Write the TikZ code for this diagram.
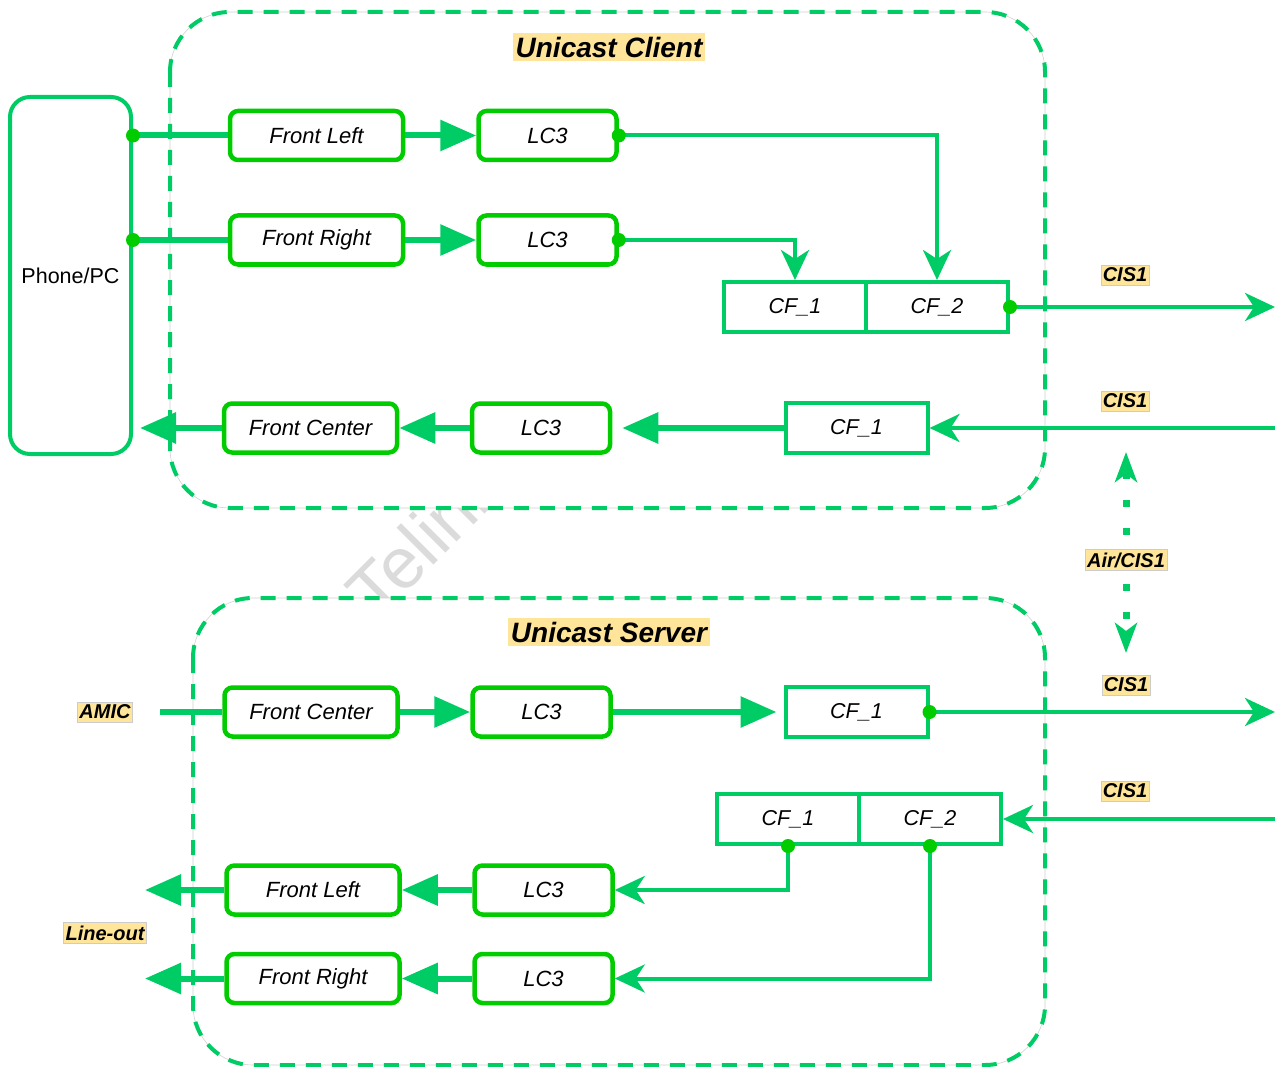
\documentclass[tikz,border=0pt]{standalone}
\usepackage{fontspec}
\setmainfont{Liberation Sans}
\usetikzlibrary{arrows.meta}

\definecolor{flow}{HTML}{00CC66}
\definecolor{blockgreen}{HTML}{00CC00}
\definecolor{tagfill}{HTML}{FFE599}

\tikzset{
  region/.style={draw=flow, line width=4pt, dash pattern=on 15pt off 11pt, rounded corners=60pt},
  regionguide/.style={draw=black!18, line width=0.6pt, rounded corners=60pt, fill=white},
  block/.style={draw=blockgreen, line width=4.5pt, rounded corners=8pt, fill=white,
    minimum width=173pt, minimum height=49pt, inner sep=0pt,
    font=\fontsize{22}{26}\selectfont\itshape},
  codec/.style={block, minimum width=138pt},
  frame/.style={draw=flow, line width=4pt, fill=white, minimum width=142pt,
    minimum height=50pt, inner sep=0pt, font=\fontsize{21.5}{25}\selectfont\itshape},
  tag/.style={fill=tagfill, draw=black!20, line width=0.4pt, inner xsep=2pt, inner ysep=3pt,
    font=\fontsize{20}{24}\selectfont\bfseries\itshape},
  heading/.style={fill=tagfill, inner xsep=3pt, inner ysep=4pt,
    font=\fontsize{28}{32}\selectfont\bfseries\itshape},
  bus/.style={draw=flow, line width=6pt, -{Triangle[length=36pt,width=30pt]}},
  busplain/.style={draw=flow, line width=6pt},
  link/.style={draw=flow, line width=4pt, -{Stealth[length=30pt,width=28pt,inset=9pt]}},
  air/.style={draw=flow, line width=7pt, dash pattern=on 7pt off 21pt,
    {Stealth[length=30pt,width=22pt,inset=8pt]}-{Stealth[length=30pt,width=22pt,inset=8pt]}},
  joint/.style={circle, fill=blockgreen, inner sep=0pt, minimum size=14pt},
}

\begin{document}
\begin{tikzpicture}[x=1pt, y=-1pt]
\useasboundingbox (0,0) rectangle (1276,1067);
\fill[white] (0,0) rectangle (1276,1067);

% faint stamp between the two regions
\begin{scope}
  \clip (0,508) rectangle (1276,598);
  \node[rotate=45, anchor=base west, text=black!14, inner sep=0pt,
        font=\fontsize{72}{80}\selectfont] (stamp) at (377,622) {Telink};
\end{scope}

% ---------------- regions ----------------
\path[regionguide] (170,12) rectangle (1045,508);
\path[region] (170,12) rectangle (1045,508);
\path[regionguide] (193,598) rectangle (1045,1065);
\path[region] (193,598) rectangle (1045,1065);

\node[heading] (t-client) at (609,47) {Unicast Client};
\node[heading] (t-server) at (609,632) {Unicast Server};

% ---------------- source device ----------------
\node[draw=flow, line width=4pt, rounded corners=20pt, minimum width=121pt,
      minimum height=357pt, inner sep=0pt, font=\fontsize{21.5}{25}\selectfont]
      (ph) at (70.5,275.5) {Phone/PC};

% ---------------- client blocks ----------------
\node[block] (c-fl)  at (316.5,135.5) {Front Left};
\node[codec] (c-lc1) at (547.5,135.5) {LC3};
\node[block] (c-fr)  at (316.5,240)   {Front Right};
\node[codec] (c-lc2) at (547.5,240)   {LC3};
\node[frame] (c-cf1) at (795,307)     {CF\_1};
\node[frame] (c-cf2) at (937,307)     {CF\_2};
\node[block] (c-fc)  at (310.5,428)   {Front Center};
\node[codec] (c-lc3) at (541,428)     {LC3};
\node[frame] (c-cf3) at (856.5,428)   {CF\_1};

% ---------------- server blocks ----------------
\node[block] (s-fc)  at (311,712)     {Front Center};
\node[codec] (s-lc1) at (541.5,712)   {LC3};
\node[frame] (s-cf1) at (856.5,712)   {CF\_1};
\node[frame] (s-cfa) at (788,819)     {CF\_1};
\node[frame] (s-cfb) at (930,819)     {CF\_2};
\node[block] (s-fl)  at (313,890)     {Front Left};
\node[codec] (s-lc2) at (543.5,890)   {LC3};
\node[block] (s-fr)  at (313,978.5)   {Front Right};
\node[codec] (s-lc3) at (543.5,978.5) {LC3};

% free ends
\coordinate (o1) at (1275,307);
\coordinate (i1) at (1275,428);
\coordinate (o2) at (1275,712);
\coordinate (i2) at (1275,819);
\coordinate (pc-in) at (140,428);
\coordinate (amic) at (160,712);
\coordinate (lo1) at (145,890);
\coordinate (lo2) at (145,978.5);
\coordinate (air-top) at (1126,452);
\coordinate (air-bot) at (1126,653);

% ---------------- client connectors ----------------
\draw[busplain] (ph.east |- c-fl.west) -- (c-fl.west);
\draw[busplain] (ph.east |- c-fr.west) -- (c-fr.west);
\draw[bus] (c-fl.east) -- (c-lc1.west);
\draw[bus] (c-fr.east) -- (c-lc2.west);
\draw[link] (c-lc1.east) -| (c-cf2.north);
\draw[link] (c-lc2.east) -| (c-cf1.north);
\draw[link] (c-cf2.east) -- (o1);
\draw[link] (i1) -- (c-cf3.east);
\draw[bus, shorten >=10pt] (c-cf3.west) -- (c-lc3.east);
\draw[bus] (c-lc3.west) -- (c-fc.east);
\draw[bus] (c-fc.west) -- (pc-in);

\node[joint] (j1) at (ph.east |- c-fl.west) {};
\node[joint] (j2) at (ph.east |- c-fr.west) {};
\node[joint] (j3) at (c-lc1.east) {};
\node[joint] (j4) at (c-lc2.east) {};
\node[joint] (j5) at (c-cf2.east) {};

% ---------------- server connectors ----------------
\draw[busplain] (amic) -- (s-fc.west);
\draw[bus] (s-fc.east) -- (s-lc1.west);
\draw[bus, shorten >=7pt] (s-lc1.east) -- (s-cf1.west);
\draw[link] (s-cf1.east) -- (o2);
\draw[link] (i2) -- (s-cfb.east);
\draw[link] (s-cfa.south) |- (s-lc2.east);
\draw[link] (s-cfb.south) |- (s-lc3.east);
\draw[bus] (s-lc2.west) -- (s-fl.east);
\draw[bus] (s-lc3.west) -- (s-fr.east);
\draw[bus] (s-fl.west) -- (lo1);
\draw[bus] (s-fr.west) -- (lo2);

\node[joint] (j6) at (s-cf1.east) {};
\node[joint] (j7) at (s-cfa.south) {};
\node[joint] (j8) at (s-cfb.south) {};

% ---------------- over the air ----------------
\draw[air] (air-top) -- (air-bot);

% ---------------- labels ----------------
\node[tag] (l-cis1) at (1125,275) {CIS1};
\node[tag] (l-cis2) at (1125,401) {CIS1};
\node[tag] (l-air)  at (1126,560) {Air/CIS1};
\node[tag] (l-cis3) at (1126,685) {CIS1};
\node[tag] (l-cis4) at (1125,791) {CIS1};
\node[tag] (l-amic) at (105,712)  {AMIC};
\node[tag] (l-out)  at (105,933)  {Line-out};
\end{tikzpicture}
\end{document}
